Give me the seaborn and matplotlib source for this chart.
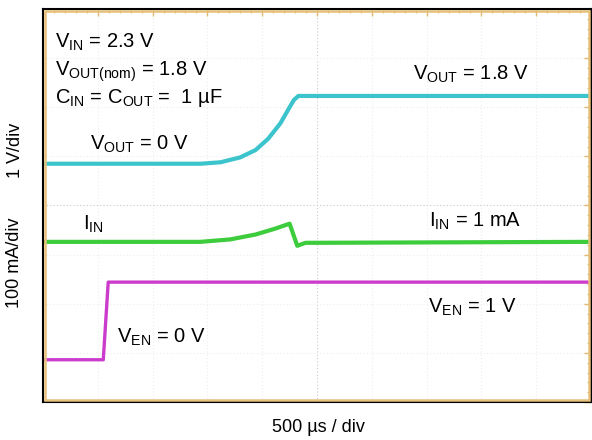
import numpy as np
import pandas as pd
import matplotlib
matplotlib.use('Agg')
import matplotlib.pyplot as plt
import seaborn as sns
from matplotlib.patches import Rectangle

vout_t = [0.0, 2.87, 3.24, 3.60, 3.88, 4.11, 4.33, 4.50, 4.58, 4.66, 10.0]
vout_y = [4.85, 4.85, 4.88, 4.98, 5.13, 5.36, 5.67, 6.00, 6.15, 6.23, 6.23]
iin_t = [0.0, 2.87, 3.42, 3.88, 4.24, 4.50, 4.64, 4.79, 10.0]
iin_y = [3.26, 3.26, 3.31, 3.41, 3.53, 3.63, 3.18, 3.24, 3.26]
ven_t = [0.0, 1.10, 1.19, 10.0]
ven_y = [0.86, 0.86, 2.44, 2.44]

sns.set_style('white')
plt.rcParams['font.family'] = ['Liberation Sans', 'DejaVu Sans']
plt.rcParams['text.color'] = 'black'
plt.rcParams['mathtext.fontset'] = 'custom'
plt.rcParams['mathtext.rm'] = 'Liberation Sans'
plt.rcParams['mathtext.it'] = 'Liberation Sans:italic'
plt.rcParams['mathtext.bf'] = 'Liberation Sans:bold'

fig = plt.figure(figsize=(5.92, 4.40), dpi=100)
ax = fig.add_axes([43 / 592, 38 / 440, 548 / 592, 393 / 440])

# faint scope graticule
for gx in range(1, 10):
    ax.axvline(gx, color='#c8c8c8' if gx == 5 else '#eeeeee', lw=0.8, ls=(0, (1, 2)), zorder=0)
for gy in range(1, 8):
    ax.axhline(gy, color='#c8c8c8' if gy == 4 else '#eeeeee', lw=0.8, ls=(0, (1, 2)), zorder=0)

traces = [
    (vout_t, vout_y, '#3cc4cc', 3.0),
    (iin_t, iin_y, '#3ccc3c', 3.0),
    (ven_t, ven_y, '#cc3ccc', 2.4),
]
for t, y, col, lw in traces:
    df = pd.DataFrame({'t': t, 'y': y})
    sns.lineplot(data=df, x='t', y='y', ax=ax, color=col, lw=lw,
                 estimator=None, sort=False)

ax.set_xlim(0, 10)
ax.set_ylim(0, 8)
ax.set_xlabel('')
ax.set_ylabel('')
ax.set_xticks(np.arange(0, 11, 1))
ax.set_yticks(np.arange(0, 9, 1))
ax.set_xticks(np.arange(0, 10.01, 0.2), minor=True)
ax.set_yticks(np.arange(0, 8.01, 0.2), minor=True)
ax.tick_params(which='both', direction='in', color='#e2b870', labelbottom=False,
               labelleft=False, top=True, right=True)
ax.tick_params(which='major', length=5, width=1)
ax.tick_params(which='minor', length=3, width=0.8)
for sp in ax.spines.values():
    sp.set_color('black')
    sp.set_linewidth(1.5)
ax.add_patch(Rectangle((0.003, 0.004), 0.994, 0.992, transform=ax.transAxes,
                       fill=False, edgecolor='#e6bf7a', lw=1.8, zorder=5))

fs = 14.5
ax.text(0.22, 7.22, r'V$_{\rm IN}$ = 2.3 V', fontsize=fs)
ax.text(0.22, 6.65, r'V$_{\rm OUT(nom)}$ = 1.8 V', fontsize=fs)
ax.text(0.22, 6.08, r'C$_{\rm IN}$ = C$_{\rm OUT}$ =  1 µF', fontsize=fs)
ax.text(0.86, 5.13, r'V$_{\rm OUT}$ = 0 V', fontsize=fs)
ax.text(6.76, 6.56, r'V$_{\rm OUT}$ = 1.8 V', fontsize=fs)
ax.text(0.73, 3.50, r'I$_{\rm IN}$', fontsize=fs)
ax.text(7.04, 3.56, r'I$_{\rm IN}$ = 1 mA', fontsize=fs)
ax.text(7.02, 1.81, r'V$_{\rm EN}$ = 1 V', fontsize=fs)
ax.text(1.35, 1.20, r'V$_{\rm EN}$ = 0 V', fontsize=fs)

fig.text(15 / 592, 1 - 150 / 440, '1 V/div', rotation=90, ha='center', va='center', fontsize=13)
fig.text(15 / 592, 1 - 263 / 440, '100 mA/div', rotation=90, ha='center', va='center', fontsize=13)
fig.text(318 / 592, 1 - 427 / 440, '500 µs / div', ha='center', va='center', fontsize=13)

fig.savefig('out.png', dpi=100, facecolor='white')
